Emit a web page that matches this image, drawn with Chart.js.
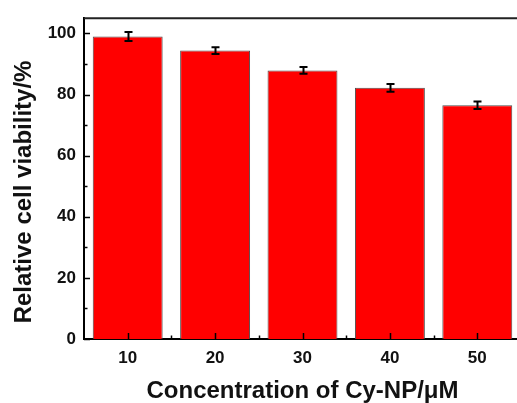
<!DOCTYPE html>
<html>
<head>
<meta charset="utf-8">
<script src="https://cdn.jsdelivr.net/npm/chart.js@4/dist/chart.umd.min.js"></script>
<style>
  html, body { margin: 0; padding: 0; background: #fff; overflow: hidden; }
  #wrap { width: 530px; height: 403px; }
</style>
</head>
<body>
<div id="wrap"><canvas id="viab" width="530" height="403"></canvas></div>
<script>
// concentrations (µM) and measured viability with error
const concentrations = ['10', '20', '30', '40', '50'];
const viability      = [99.0, 94.4, 87.9, 82.2, 76.5];
const viabilityErr   = [1.5, 1.1, 1.1, 1.3, 1.2];
const yTicks         = [0, 20, 40, 60, 80, 100];

const FONT = '"Liberation Sans", Arial, sans-serif';

// error bars, inward tick marks and the top/right frame
const marksPlugin = {
  id: 'marks',
  afterDatasetsDraw(chart) {
    const { ctx, chartArea: a, scales: { x, y } } = chart;
    ctx.save();
    ctx.strokeStyle = '#000';

    // error bars
    ctx.lineWidth = 2;
    chart.getDatasetMeta(0).data.forEach((bar, i) => {
      const hi = y.getPixelForValue(viability[i] + viabilityErr[i]);
      const lo = y.getPixelForValue(viability[i] - viabilityErr[i]);
      const cx = Math.round(bar.x) + 0.5;
      ctx.beginPath();
      ctx.moveTo(cx, hi); ctx.lineTo(cx, lo);
      ctx.moveTo(cx - 4, hi); ctx.lineTo(cx + 4, hi);
      ctx.moveTo(cx - 4, lo); ctx.lineTo(cx + 4, lo);
      ctx.stroke();
    });

    // y ticks pointing into the plot
    ctx.lineWidth = 1.5;
    y.ticks.forEach(t => {
      if (t.value % 10 !== 0) return;
      const py = Math.round(y.getPixelForValue(t.value)) + 0.5;
      const len = t.value % 20 === 0 ? 6 : 3.5;
      ctx.beginPath();
      ctx.moveTo(a.left, py); ctx.lineTo(a.left + len, py);
      ctx.stroke();
    });

    // x ticks: major at categories, minor between them
    concentrations.forEach((c, i) => {
      const px = Math.round(x.getPixelForValue(i)) + 0.5;
      ctx.beginPath();
      ctx.moveTo(px, a.bottom); ctx.lineTo(px, a.bottom - 6);
      ctx.stroke();
      if (i < concentrations.length - 1) {
        const mx = Math.round((x.getPixelForValue(i) + x.getPixelForValue(i + 1)) / 2) + 0.5;
        ctx.beginPath();
        ctx.moveTo(mx, a.bottom); ctx.lineTo(mx, a.bottom - 3.5);
        ctx.stroke();
      }
    });

    // top and right frame
    ctx.lineWidth = 2;
    ctx.strokeStyle = '#222';
    ctx.beginPath();
    ctx.moveTo(a.left, a.top); ctx.lineTo(a.right, a.top); ctx.lineTo(a.right, a.bottom);
    ctx.stroke();
    ctx.restore();
  }
};

new Chart(document.getElementById('viab'), {
  type: 'bar',
  data: {
    labels: concentrations,
    datasets: [{
      data: viability,
      backgroundColor: '#ff0000',
      borderColor: '#4d4d4d',
      borderWidth: 1,
      barPercentage: 0.8,
      categoryPercentage: 1.0
    }]
  },
  options: {
    responsive: false,
    animation: false,
    devicePixelRatio: 1,
    layout: { padding: { left: 0, top: 15, right: 9, bottom: 0 } },
    plugins: { legend: { display: false }, tooltip: { enabled: false } },
    scales: {
      x: {
        afterFit: s => { s.height = 64; },
        grid: { display: false, drawTicks: false },
        border: { display: true, color: '#000', width: 2 },
        ticks: { color: '#111', padding: 9, font: { family: FONT, size: 17, weight: 'bold' } },
        title: {
          display: true,
          text: 'Concentration of Cy-NP/μM',
          color: '#111',
          padding: 0,
          font: { family: FONT, size: 24, weight: 'bold', lineHeight: 1 }
        }
      },
      y: {
        min: 0,
        max: 105,
        afterFit: s => { s.width = 84; },
        grid: { display: false, drawTicks: false },
        border: { display: true, color: '#000', width: 2 },
        ticks: {
          stepSize: 10,
          includeBounds: false,
          padding: 8,
          color: '#111',
          font: { family: FONT, size: 17, weight: 'bold' },
          callback: v => (yTicks.includes(v) ? v : '')
        },
        title: {
          display: true,
          text: 'Relative cell viability/%    ',
          color: '#111',
          padding: { top: 12, bottom: 0 },
          font: { family: FONT, size: 24, weight: 'bold', lineHeight: 1 }
        }
      }
    }
  },
  plugins: [marksPlugin]
});
</script>
</body>
</html>
